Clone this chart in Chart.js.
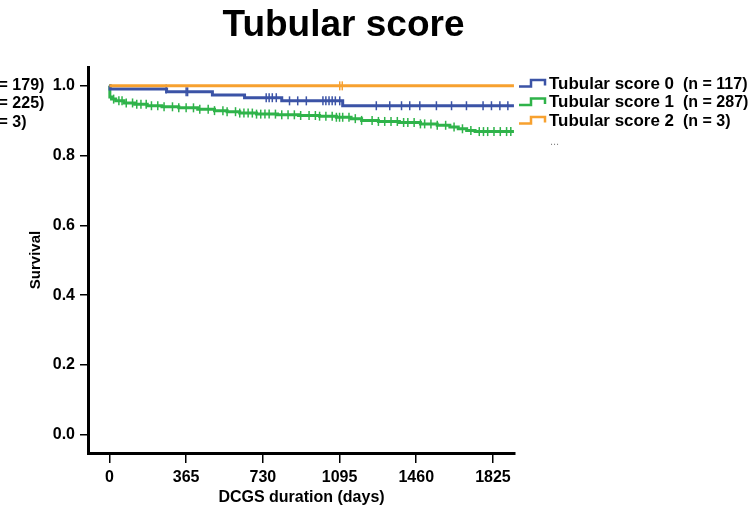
<!DOCTYPE html>
<html>
<head>
<meta charset="utf-8">
<script src="https://cdn.jsdelivr.net/npm/chart.js@4/dist/chart.umd.min.js"></script>
<style>
  body { margin: 0; background: #fff; }
  canvas { display: block; }
</style>
</head>
<body>
<canvas id="kmChart" width="753" height="510"></canvas>
<script>
// Kaplan-Meier steps (day, survival after the event)
var score0Days = [0, 3, 272, 490, 643, 820, 1110, 1925];
var score0Surv = [1.0, 0.991, 0.983, 0.974, 0.966, 0.957, 0.943, 0.943];
var score1Days = [0, 2, 10, 30, 70, 120, 180, 250, 330, 420, 500, 560, 620, 700, 800, 900, 1000, 1080, 1150, 1200, 1280, 1380, 1480, 1560, 1620, 1660, 1700, 1740, 1925];
var score1Surv = [1.0, 0.968, 0.962, 0.957, 0.951, 0.947, 0.943, 0.940, 0.937, 0.933, 0.929, 0.926, 0.922, 0.919, 0.917, 0.915, 0.913, 0.910, 0.906, 0.901, 0.898, 0.895, 0.891, 0.887, 0.882, 0.877, 0.872, 0.869, 0.869];
var score2Days = [0, 1925];
var score2Surv = [1.0, 1.0];

// censored times (tick marks)
var score0Censor = [270, 365, 372, 746, 760, 775, 794, 857, 896, 937, 1016, 1030, 1045, 1060, 1075, 1096, 1270, 1334, 1390, 1429, 1477, 1556, 1628, 1699, 1778, 1818, 1858, 1896];
var score1Censor = [20, 45, 60, 80, 110, 130, 150, 175, 200, 230, 260, 300, 330, 365, 400, 430, 470, 500, 540, 560, 600, 620, 640, 660, 680, 700, 720, 740, 760, 790, 820, 850, 880, 910, 950, 980, 1000, 1030, 1060, 1080, 1095, 1110, 1140, 1170, 1200, 1250, 1280, 1310, 1340, 1370, 1400, 1420, 1450, 1480, 1500, 1530, 1560, 1600, 1640, 1680, 1720, 1760, 1780, 1800, 1830, 1860, 1890, 1910];
var score2Censor = [1096, 1108];

var groupNames = ['Tubular score 0', 'Tubular score 1', 'Tubular score 2'];
var groupCounts = ['(n = 117)', '(n = 287)', '(n = 3)'];
var otherCounts = ['(n = 179)', '(n = 225)', '(n = 3)']; // cut-off legend of the neighbour panel
var colors = ['#3b53a6', '#2fb34a', '#f7a12f'];

var xTicks = [0, 365, 730, 1095, 1460, 1825];
var yTicks = [0, 0.2, 0.4, 0.6, 0.8, 1.0];

var font = "'Liberation Sans', Arial, Helvetica, sans-serif";

function steps(days, surv) {
  return days.map(function (d, i) { return { x: d, y: surv[i] }; });
}

function survAt(days, surv, t) {
  var s = surv[0];
  for (var i = 0; i < days.length; i++) {
    if (days[i] <= t) s = surv[i];
  }
  return s;
}

function censorPoints(times, days, surv) {
  return times.map(function (t) { return { x: t, y: survAt(days, surv, t) }; });
}

function curve(label, days, surv, color, order) {
  return {
    label: label,
    data: steps(days, surv),
    stepped: true,
    borderColor: color,
    borderWidth: 3,
    pointRadius: 0,
    fill: false,
    order: order
  };
}

function ticksSet(label, times, days, surv, color, order) {
  return {
    label: label + ' censored',
    data: censorPoints(times, days, surv),
    showLine: false,
    pointStyle: 'line',
    rotation: 90,
    pointRadius: 4.5,
    pointBorderWidth: 1.5,
    borderColor: color,
    backgroundColor: color,
    order: order
  };
}

// text in the original is a little wider than Liberation Sans
function wideText(ctx, text, x, y, sx) {
  ctx.save();
  ctx.translate(x, y);
  ctx.scale(sx, 1);
  ctx.fillText(text, 0, 0);
  ctx.restore();
}

var extras = {
  id: 'extras',
  afterDraw: function (chart) {
    var ctx = chart.ctx;
    ctx.save();
    ctx.fillStyle = '#000';
    ctx.textBaseline = 'alphabetic';
    ctx.textAlign = 'center';
    ctx.font = 'bold 37px ' + font;
    ctx.fillText('Tubular score', 343.5, 36);

    ctx.textBaseline = 'middle';
    ctx.textAlign = 'left';
    ctx.font = 'bold 16px ' + font;
    var rows = [84.5, 103, 121.5];
    for (var i = 0; i < 3; i++) {
      var y = rows[i];
      ctx.strokeStyle = colors[i];
      ctx.lineWidth = 2.5;
      ctx.beginPath();
      ctx.moveTo(519, y + 2);
      ctx.lineTo(531, y + 2);
      ctx.lineTo(531, y - 4.5);
      ctx.lineTo(545, y - 4.5);
      ctx.lineTo(545, y + 1);
      ctx.stroke();
      ctx.fillStyle = '#000';
      wideText(ctx, groupNames[i], 549, y, 1.06);
      ctx.fillText(groupCounts[i], 683, y);
      ctx.fillText(otherCounts[i], -21, y + 1);
    }
    ctx.fillStyle = '#888';
    ctx.font = '11px ' + font;
    ctx.fillText('...', 550, 142);
    ctx.restore();
  }
};

var ctx = document.getElementById('kmChart').getContext('2d');
var chart = new Chart(ctx, {
  type: 'line',
  data: {
    datasets: [
      curve(groupNames[2], score2Days, score2Surv, colors[2], 0),
      ticksSet(groupNames[2], score2Censor, score2Days, score2Surv, colors[2], 0),
      curve(groupNames[0], score0Days, score0Surv, colors[0], 1),
      ticksSet(groupNames[0], score0Censor, score0Days, score0Surv, colors[0], 1),
      curve(groupNames[1], score1Days, score1Surv, colors[1], 2),
      ticksSet(groupNames[1], score1Censor, score1Days, score1Surv, colors[1], 2)
    ]
  },
  options: {
    responsive: false,
    animation: false,
    layout: { padding: { top: 67, right: 238, left: 0, bottom: 0 } },
    plugins: {
      legend: { display: false },
      tooltip: { enabled: false }
    },
    scales: {
      x: {
        type: 'linear',
        min: -102,
        max: 1930,
        afterBuildTicks: function (s) { s.ticks = xTicks.map(function (v) { return { value: v }; }); },
        afterFit: function (s) { s.height = 57; },
        border: { color: '#000', width: 3 },
        grid: { drawOnChartArea: false, color: '#000', lineWidth: 1.5, tickLength: 10 },
        ticks: {
          color: '#000',
          font: { family: font, size: 16, weight: 'bold' },
          padding: 5,
          maxRotation: 0,
          callback: function (v) { return String(v); }
        },
        title: {
          display: true,
          text: 'DCGS duration (days)',
          color: '#000',
          font: { family: font, size: 16, weight: 'bold' },
          padding: { top: 0, bottom: 3 }
        }
      },
      y: {
        min: -0.052,
        max: 1.054,
        afterBuildTicks: function (s) { s.ticks = yTicks.map(function (v) { return { value: v }; }); },
        afterFit: function (s) { s.width = 88; },
        border: { color: '#000', width: 3 },
        grid: { drawOnChartArea: false, color: '#000', lineWidth: 1.5, tickLength: 8 },
        ticks: {
          color: '#000',
          font: { family: font, size: 16, weight: 'bold' },
          padding: 5,
          callback: function (v) { return v.toFixed(1); }
        },
        title: {
          display: true,
          text: 'Survival',
          color: '#000',
          font: { family: font, size: 15, weight: 'bold' },
          padding: { top: 27, bottom: 0 }
        }
      }
    }
  },
  plugins: [extras]
});
</script>
</body>
</html>
